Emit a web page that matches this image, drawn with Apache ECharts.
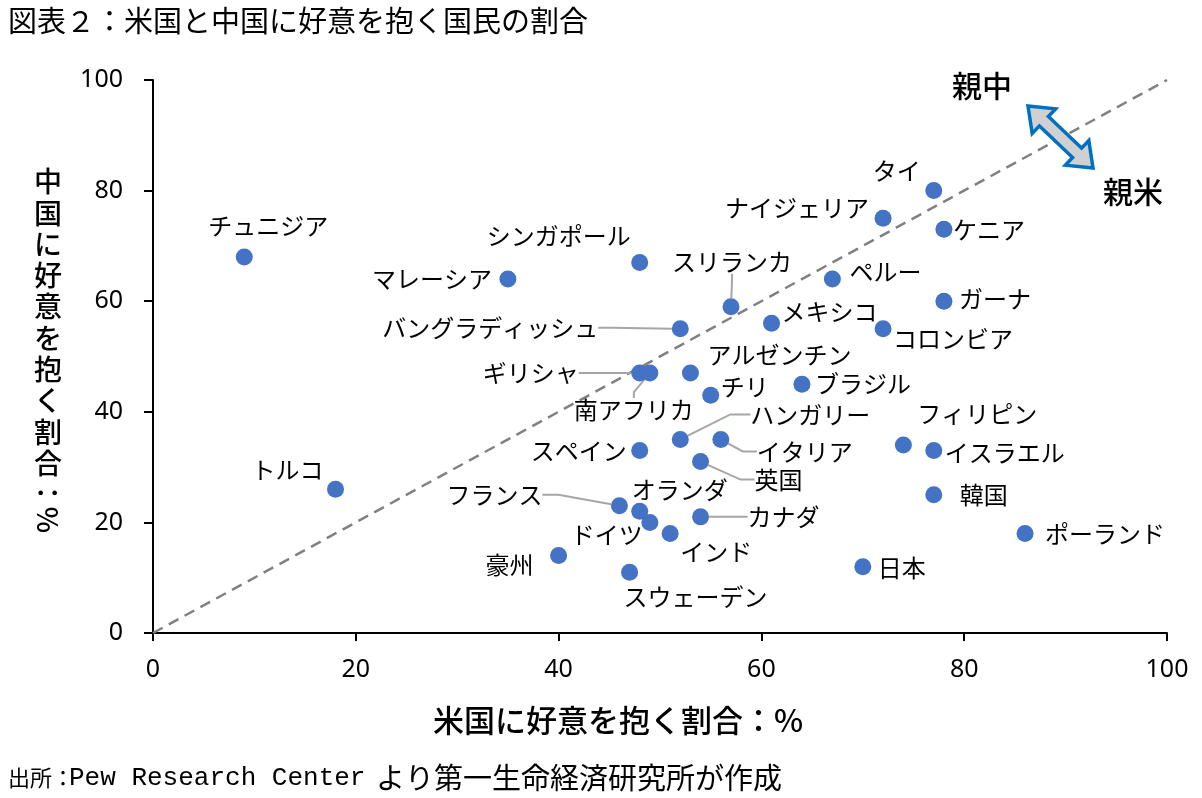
<!DOCTYPE html>
<html>
<head>
<meta charset="utf-8">
<script src="https://cdn.jsdelivr.net/npm/echarts@6/dist/echarts.min.js"></script>
<style>
  html, body { margin: 0; padding: 0; background: #fff; }
  #main { width: 1202px; height: 798px; }
</style>
</head>
<body>
<div id="main"></div>
<script>
// 国名と好意度（%）
var countries = ['チュニジア', 'トルコ', 'マレーシア', 'シンガポール', '豪州', 'スウェーデン',
    'スペイン', 'ギリシャ', '南アフリカ', 'アルゼンチン', 'チリ', 'バングラディッシュ',
    'スリランカ', 'メキシコ', 'ペルー', 'コロンビア', 'ブラジル', 'ハンガリー', 'イタリア',
    '英国', 'フランス', 'オランダ', 'ドイツ', 'インド', 'カナダ', '日本', '韓国',
    'ポーランド', 'イスラエル', 'フィリピン', 'ガーナ', 'ケニア', 'ナイジェリア', 'タイ'];
var usFav = [9, 18, 35, 48, 40, 47, 48, 48, 49, 53, 55, 52, 57, 61, 67, 72, 64, 52, 56,
    54, 46, 48, 49, 51, 54, 70, 77, 86, 77, 74, 78, 78, 72, 77];
var cnFav = [68, 26, 64, 67, 14, 11, 33, 47, 47, 47, 43, 55, 59, 56, 64, 55, 45, 35, 35,
    31, 23, 22, 20, 18, 21, 12, 25, 18, 33, 34, 60, 73, 75, 80];
var diagonal = [0, 100];
var axisMin = 0, axisMax = 100, axisStep = 20;

// ラベルの位置（点の中心からのずれ、px）
var labelShift = {
    'チュニジア': [24, -31], 'トルコ': [-48, -19], 'マレーシア': [-76, 0],
    'シンガポール': [-81, -27], '豪州': [-49, 9], 'スウェーデン': [66, 25],
    'スペイン': [-61, 0], 'ギリシャ': [-109, 0], '南アフリカ': [-16, 37],
    'アルゼンチン': [89, -18], 'チリ': [34, -8], 'バングラディッシュ': [-190, -1],
    'スリランカ': [1, -45], 'メキシコ': [58, -11], 'ペルー': [53, -7],
    'コロンビア': [70, 10], 'ブラジル': [61, 0], 'ハンガリー': [130, -25],
    'イタリア': [84, 12], '英国': [78, 18], 'フランス': [-125, -11],
    'オランダ': [40, -21], 'ドイツ': [-43, 12], 'インド': [46, 18], 'カナダ': [83, 0],
    '日本': [39, 1], '韓国': [50, 0], 'ポーランド': [80, 0], 'イスラエル': [71, 2],
    'フィリピン': [74, -31], 'ガーナ': [51, -2], 'ケニア': [45, 1],
    'ナイジェリア': [-86, -10], 'タイ': [-37, -20]
};
// 引き出し線
var leader = {
    'バングラディッシュ': 14, 'ギリシャ': 10, '南アフリカ': 6, 'スリランカ': 8,
    'ハンガリー': 20, 'イタリア': 14, '英国': 14, 'フランス': 16, 'カナダ': 6
};

var jp = "'Noto Sans CJK JP', 'Noto Sans', sans-serif";

var points = [];
for (var i = 0; i < countries.length; i++) {
    var item = { name: countries[i], value: [usFav[i], cnFav[i]] };
    if (leader[countries[i]] != null) {
        item.labelLine = { show: true, length2: leader[countries[i]] };
    }
    points.push(item);
}

// 両矢印
function arrowPoints(ax, ay, bx, by) {
    var dx = bx - ax, dy = by - ay, len = Math.sqrt(dx * dx + dy * dy);
    var ux = dx / len, uy = dy / len, nx = -uy, ny = ux;
    var cx = (ax + bx) / 2, cy = (ay + by) / 2, h = len / 2;
    var loc = [[-h, 0], [-h + 22, -17], [-h + 22, -6.5], [h - 22, -6.5], [h - 22, -17],
        [h, 0], [h - 22, 17], [h - 22, 6.5], [-h + 22, 6.5], [-h + 22, 17]];
    return loc.map(function (p) {
        return [cx + ux * p[0] + nx * p[1], cy + uy * p[0] + ny * p[1]];
    });
}

var myChart = echarts.init(document.getElementById('main'));

var option = {
    animation: false,
    backgroundColor: '#fff',
    grid: { left: 153, right: 35, top: 80, bottom: 165 },
    xAxis: {
        type: 'value', min: axisMin, max: axisMax, interval: axisStep,
        axisLine: { lineStyle: { color: '#000', width: 2 } },
        axisTick: { show: true, length: 8, lineStyle: { color: '#000', width: 2 } },
        axisLabel: { color: '#000', fontSize: 25, fontFamily: 'Noto Sans', margin: 24 },
        splitLine: { show: false }
    },
    yAxis: {
        type: 'value', min: axisMin, max: axisMax, interval: axisStep,
        axisLine: { show: true, lineStyle: { color: '#000', width: 2 } },
        axisTick: { show: true, length: 9, lineStyle: { color: '#000', width: 2 } },
        axisLabel: { color: '#000', fontSize: 25, fontFamily: 'Noto Sans', margin: 30 },
        splitLine: { show: false }
    },
    series: [
        {
            type: 'line',
            data: [[diagonal[0], diagonal[0]], [diagonal[1], diagonal[1]]],
            symbol: 'none',
            silent: true,
            z: 1,
            lineStyle: { color: '#808080', width: 2.5, type: [11, 7] }
        },
        {
            type: 'scatter',
            data: points,
            symbolSize: 17,
            z: 3,
            itemStyle: { color: '#4472C4', opacity: 1 },
            label: {
                show: true,
                position: 'inside',
                formatter: '{b}',
                color: '#000',
                fontSize: 24,
                fontFamily: jp
            },
            labelLine: {
                show: false,
                lineStyle: { color: '#A6A6A6', width: 2 }
            },
            labelLayout: function (params) {
                var s = labelShift[countries[params.dataIndex]] || [0, 0];
                return { dx: s[0], dy: s[1] };
            }
        }
    ],
    graphic: [
        {
            type: 'text', left: 8, top: 6,
            style: { text: '図表２：米国と中国に好意を抱く国民の割合', fill: '#000',
                font: "29px 'Noto Sans CJK JP', serif" }
        },
        {
            type: 'text', x: 8, y: 778,
            style: { text: '出所：', fill: '#000', font: "22px 'Noto Sans CJK JP'", textVerticalAlign: 'middle' }
        },
        {
            type: 'text', x: 69, y: 778,
            style: { text: 'Pew Research Center', fill: '#000', font: "26px 'Liberation Mono', monospace", textVerticalAlign: 'middle' }
        },
        {
            type: 'text', x: 376, y: 778,
            style: { text: 'より第一生命経済研究所が作成', fill: '#000', font: "29px 'Noto Sans CJK JP'", textVerticalAlign: 'middle' }
        },
        {
            type: 'text', x: 618, y: 720,
            style: { text: '米国に好意を抱く割合：%', fill: '#000', font: "500 31px 'Noto Sans CJK JP'",
                textAlign: 'center', textVerticalAlign: 'middle' }
        },
        {
            type: 'text', x: 48, y: 166,
            style: { text: '中\n国\nに\n好\n意\nを\n抱\nく\n割\n合', fill: '#000',
                font: "500 28px 'Noto Sans CJK JP'", lineHeight: 31.3,
                textAlign: 'center', textVerticalAlign: 'top' }
        },
        {
            type: 'text', x: 48, y: 506, rotation: -Math.PI / 2,
            style: { text: '：%', fill: '#000', font: "500 28px 'Noto Sans CJK JP'",
                textAlign: 'center', textVerticalAlign: 'middle' }
        },
        {
            type: 'text', x: 982, y: 86,
            style: { text: '親中', fill: '#000', font: "500 30px 'Noto Sans CJK JP'",
                textAlign: 'center', textVerticalAlign: 'middle' }
        },
        {
            type: 'text', x: 1133, y: 192,
            style: { text: '親米', fill: '#000', font: "500 30px 'Noto Sans CJK JP'",
                textAlign: 'center', textVerticalAlign: 'middle' }
        },
        {
            type: 'polygon',
            z: 10,
            shape: { points: arrowPoints(1028, 106, 1093, 168) },
            style: { fill: '#D0D0D0', stroke: '#0070C0', lineWidth: 3.5, lineJoin: 'miter' }
        }
    ]
};

myChart.setOption(option);
</script>
</body>
</html>
